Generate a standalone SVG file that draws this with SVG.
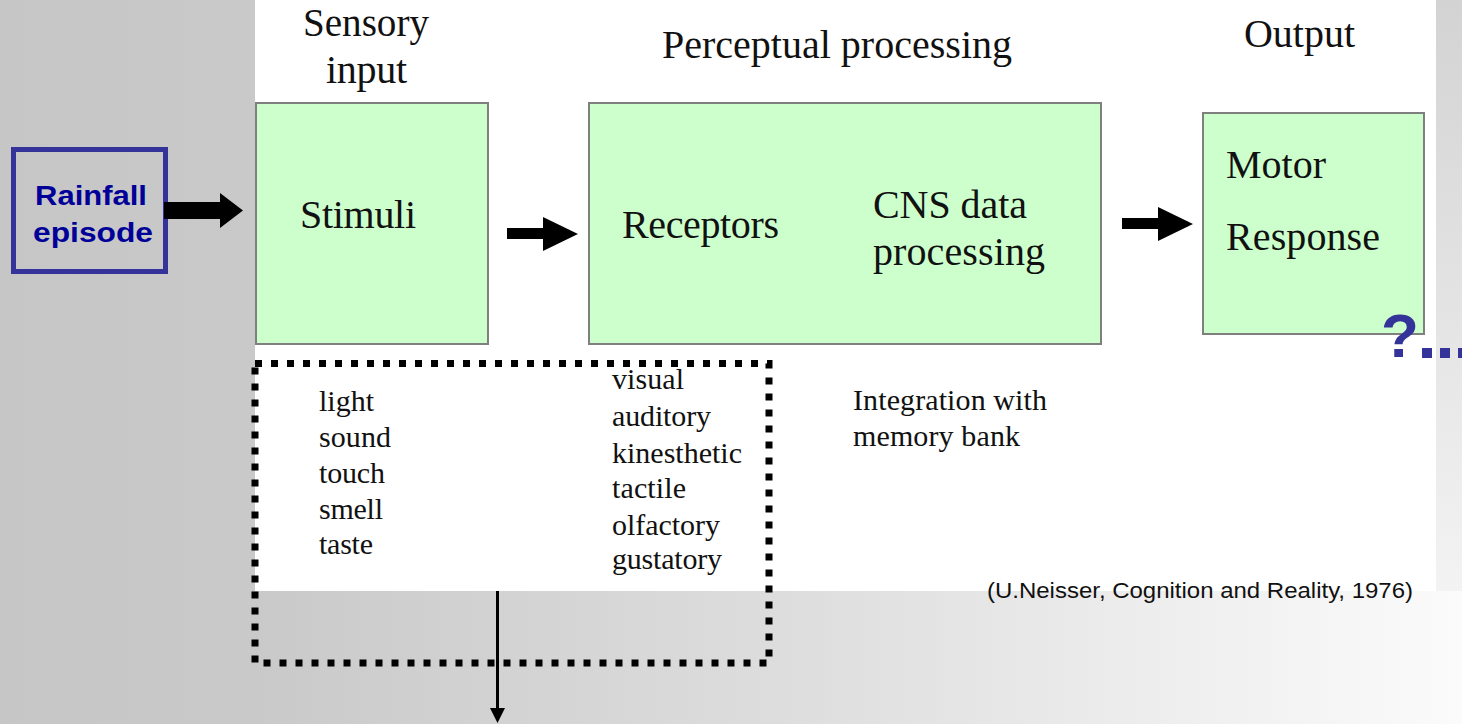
<svg xmlns="http://www.w3.org/2000/svg" width="1462" height="724" viewBox="0 0 1462 724">
<defs>
<linearGradient id="bg" x1="0" y1="0" x2="1462" y2="0" gradientUnits="userSpaceOnUse">
<stop offset="0" stop-color="#c6c6c6"/>
<stop offset="0.17" stop-color="#c9c9c9"/>
<stop offset="0.55" stop-color="#dedede"/>
<stop offset="1" stop-color="#fbfbfb"/>
</linearGradient>
<linearGradient id="strip" x1="0" y1="0" x2="0" y2="591" gradientUnits="userSpaceOnUse">
<stop offset="0" stop-color="#d3d3d3"/>
<stop offset="1" stop-color="#f3f3f3"/>
</linearGradient>
</defs>
<style>
.serif{font-family:"Liberation Serif","Times New Roman",serif;fill:#111;}
.h{font-size:40px;}
.lst{font-size:30px;}
.box{fill:#ccffcc;stroke:#7f7f7f;stroke-width:2;}
.blue{font-family:"Liberation Sans",Arial,sans-serif;font-weight:bold;fill:#000099;font-size:28px;}
.arrow{fill:#000;}
</style>
<rect x="0" y="0" width="1462" height="724" fill="url(#bg)"/>
<rect x="1436" y="0" width="26" height="591" fill="url(#strip)"/>
<rect x="255" y="0" width="1181" height="591" fill="#fff"/>

<g id="headings">
<text class="serif h" x="303" y="36" textLength="126" lengthAdjust="spacingAndGlyphs">Sensory</text>
<text class="serif h" x="326" y="83" textLength="81" lengthAdjust="spacing">input</text>
<text class="serif h" x="662" y="58" textLength="350" lengthAdjust="spacing">Perceptual processing</text>
<text class="serif h" x="1244" y="47" textLength="111" lengthAdjust="spacing">Output</text>
</g>

<g id="rainfall">
<rect x="13.5" y="149.5" width="152" height="122" fill="none" stroke="#333399" stroke-width="5"/>
<text class="blue" x="35" y="205" textLength="112" lengthAdjust="spacingAndGlyphs">Rainfall</text>
<text class="blue" x="33" y="242" textLength="120" lengthAdjust="spacingAndGlyphs">episode</text>
</g>

<g id="stimuli">
<rect class="box" x="256" y="103" width="232" height="241"/>
<text class="serif h" x="300" y="228" textLength="116" lengthAdjust="spacing">Stimuli</text>
</g>

<g id="perceptual">
<rect class="box" x="589" y="103" width="512" height="241"/>
<text class="serif h" x="622" y="238" textLength="157" lengthAdjust="spacing">Receptors</text>
<text class="serif h" x="873" y="218" textLength="154" lengthAdjust="spacing">CNS data</text>
<text class="serif h" x="873" y="265" textLength="172" lengthAdjust="spacing">processing</text>
</g>

<g id="motor">
<rect class="box" x="1203" y="113" width="221" height="221"/>
<text class="serif h" x="1226" y="178" textLength="100" lengthAdjust="spacing">Motor</text>
<text class="serif h" x="1226" y="250" textLength="154" lengthAdjust="spacing">Response</text>
</g>

<g id="senses">
<rect x="255" y="363.5" width="514" height="299.5" fill="none" stroke="#000" stroke-width="7" stroke-dasharray="7 9"/>
<text class="serif lst" x="319" y="411" textLength="55" lengthAdjust="spacing">light</text>
<text class="serif lst" x="319" y="447" textLength="72" lengthAdjust="spacing">sound</text>
<text class="serif lst" x="319" y="483" textLength="66" lengthAdjust="spacing">touch</text>
<text class="serif lst" x="319" y="519" textLength="64" lengthAdjust="spacing">smell</text>
<text class="serif lst" x="319" y="554" textLength="54" lengthAdjust="spacing">taste</text>
<text class="serif lst" x="612" y="389" textLength="72" lengthAdjust="spacing">visual</text>
<text class="serif lst" x="612" y="426" textLength="99" lengthAdjust="spacing">auditory</text>
<text class="serif lst" x="612" y="463" textLength="130" lengthAdjust="spacing">kinesthetic</text>
<text class="serif lst" x="612" y="498" textLength="74" lengthAdjust="spacing">tactile</text>
<text class="serif lst" x="612" y="535" textLength="108" lengthAdjust="spacing">olfactory</text>
<text class="serif lst" x="612" y="569" textLength="110" lengthAdjust="spacing">gustatory</text>
</g>

<g id="integration">
<text class="serif lst" x="853" y="410" textLength="194" lengthAdjust="spacing">Integration with</text>
<text class="serif lst" x="853" y="446" textLength="167" lengthAdjust="spacing">memory bank</text>
</g>

<g id="citation">
<text x="987" y="598" font-family="'Liberation Sans',Arial,sans-serif" font-size="22" fill="#111" textLength="426" lengthAdjust="spacingAndGlyphs">(U.Neisser, Cognition and Reality, 1976)</text>
</g>

<g id="question">
<text x="1381" y="357" font-family="'Liberation Sans',Arial,sans-serif" font-weight="bold" font-size="62" fill="#333399">?</text>
<line x1="1422" y1="353" x2="1462" y2="353" stroke="#333399" stroke-width="10" stroke-dasharray="10 8"/>
</g>

<g id="connectors">
<polygon class="arrow" points="164,202 220,202 220,193 243,210.5 220,228 220,219 164,219"/>
<polygon class="arrow" points="507,228 543,228 543,217 578,234 543,251 543,239 507,239"/>
<polygon class="arrow" points="1122,218 1158,218 1158,207 1193,224 1158,241 1158,229 1122,229"/>
<line x1="497.5" y1="591" x2="497.5" y2="709" stroke="#000" stroke-width="3"/>
<polygon class="arrow" points="490,708 505,708 497.5,723"/>
</g>
</svg>
